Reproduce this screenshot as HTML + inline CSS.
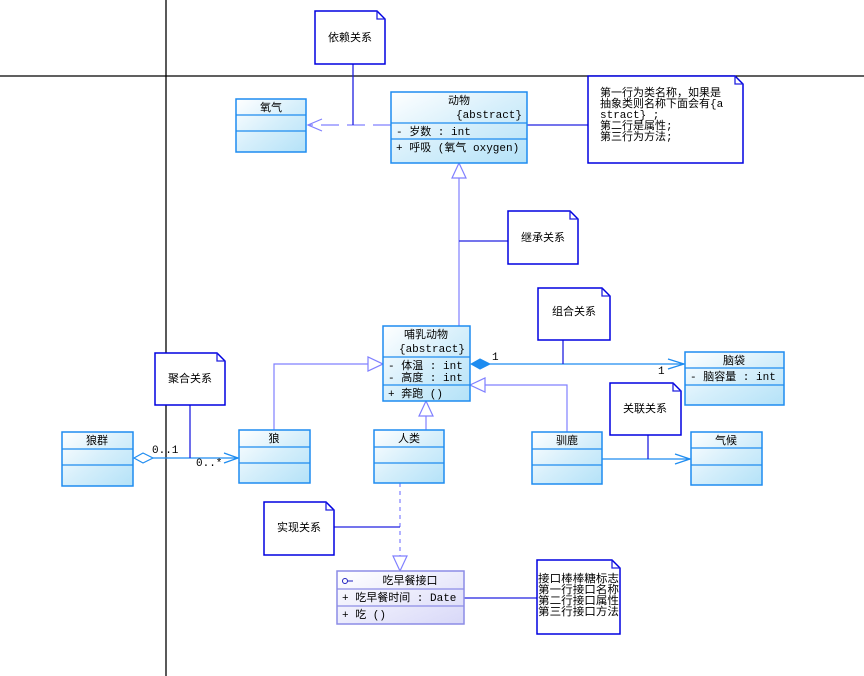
<!DOCTYPE html>
<html><head><meta charset="utf-8"><style>
html,body{margin:0;padding:0;background:#fff;}
svg{display:block}
text{font-family:"Liberation Mono","Noto Sans CJK SC",monospace;font-size:11px;fill:#000}
.c{fill:url(#g);stroke:#1e8cf0;stroke-width:1.5}
.ci{fill:url(#gp);stroke:#8c8ce6;stroke-width:1.5}
.n{fill:#fff;stroke:#0000e0;stroke-width:1.5}
.nl{stroke:#2020e0;stroke-width:1.3;fill:none}
.k{stroke:#8080ff;stroke-width:1.2;fill:none}
.b{stroke:#1e8cf0;stroke-width:1.3;fill:none}
</style></head><body>
<svg width="864" height="676" viewBox="0 0 864 676" xmlns="http://www.w3.org/2000/svg">
<defs>
<linearGradient id="g" x1="0" y1="0" x2="1" y2="1"><stop offset="0" stop-color="#ffffff"/><stop offset="0.5" stop-color="#d6effb"/><stop offset="1" stop-color="#b4e2f8"/></linearGradient>
<linearGradient id="gp" x1="0" y1="0" x2="1" y2="1"><stop offset="0" stop-color="#ffffff"/><stop offset="1" stop-color="#d8d8f8"/></linearGradient>
</defs>
<line x1="166" y1="0" x2="166" y2="676" stroke="#000" stroke-width="1.3"/>
<line x1="0" y1="76" x2="864" y2="76" stroke="#000" stroke-width="1.3"/>

<!-- connectors -->
<line x1="391" y1="125" x2="308" y2="125" class="k" stroke-dasharray="18,8"/>
<polyline points="322,119 308,125 322,131" class="k"/>
<line x1="353" y1="64" x2="353" y2="125" class="nl"/>
<line x1="527" y1="125" x2="588" y2="125" class="nl"/>
<line x1="459" y1="178" x2="459" y2="326" class="k"/>
<polygon points="459,163 452,178 466,178" fill="#fff" stroke="#8080ff" stroke-width="1.2"/>
<line x1="459" y1="241" x2="508" y2="241" class="nl"/>
<line x1="490" y1="364" x2="684" y2="364" class="b"/>
<polygon points="471,364 480,359 490,364 480,369" fill="#1e8cf0" stroke="#1e8cf0"/>
<polyline points="668,359 684,364 668,369" class="b"/>
<text x="492" y="360">1</text><text x="658" y="374">1</text>
<line x1="563" y1="340" x2="563" y2="364" class="nl"/>
<polyline points="274,430 274,364 368,364" class="k"/>
<polygon points="383,364 368,357 368,371" fill="#fff" stroke="#8080ff" stroke-width="1.2"/>
<line x1="426" y1="430" x2="426" y2="416" class="k"/>
<polygon points="426,401 419,416 433,416" fill="#fff" stroke="#8080ff" stroke-width="1.2"/>
<polyline points="567,432 567,385 485,385" class="k"/>
<polygon points="470,385 485,378 485,392" fill="#fff" stroke="#8080ff" stroke-width="1.2"/>
<line x1="602" y1="459" x2="690" y2="459" class="b"/>
<polyline points="675,454 690,459 675,464" class="b"/>
<line x1="648" y1="435" x2="648" y2="459" class="nl"/>
<line x1="153" y1="458" x2="238" y2="458" class="b"/>
<polygon points="134,458 143,453 153,458 143,463" fill="#fff" stroke="#1e8cf0" stroke-width="1.2"/>
<polyline points="224,453 238,458 224,463" class="b"/>
<text x="152" y="453">0..1</text><text x="196" y="466">0..*</text>
<line x1="190" y1="405" x2="190" y2="458" class="nl"/>
<line x1="400" y1="483" x2="400" y2="556" class="k" stroke-dasharray="4,4"/>
<polygon points="400,571 393,556 407,556" fill="#fff" stroke="#8080ff" stroke-width="1.2"/>
<line x1="334" y1="527" x2="400" y2="527" class="nl"/>
<line x1="464" y1="598" x2="537" y2="598" class="nl"/>

<!-- classes -->
<g><rect x="236" y="99" width="70" height="53" class="c"/><line x1="236" y1="115" x2="306" y2="115" class="b"/><line x1="236" y1="131" x2="306" y2="131" class="b"/><text x="271" y="111" text-anchor="middle">氧气</text></g>
<g><rect x="391" y="92" width="136" height="71" class="c"/><line x1="391" y1="123" x2="527" y2="123" class="b"/><line x1="391" y1="139" x2="527" y2="139" class="b"/>
<text x="459" y="104" text-anchor="middle">动物</text><text x="522" y="118" text-anchor="end">{abstract}</text>
<text x="396" y="135">-  岁数 : int</text><text x="396" y="151">+  呼吸 (氧气 oxygen)</text></g>
<g><rect x="383" y="326" width="87" height="75" class="c"/><line x1="383" y1="357" x2="470" y2="357" class="b"/><line x1="383" y1="385" x2="470" y2="385" class="b"/>
<text x="426" y="338" text-anchor="middle">哺乳动物</text><text x="465" y="352" text-anchor="end">{abstract}</text>
<text x="388" y="369">-  体温 : int</text><text x="388" y="381">-  高度 : int</text><text x="388" y="397">+  奔跑 ()</text></g>
<g><rect x="685" y="352" width="99" height="53" class="c"/><line x1="685" y1="368" x2="784" y2="368" class="b"/><line x1="685" y1="385" x2="784" y2="385" class="b"/><text x="734" y="364" text-anchor="middle">脑袋</text><text x="690" y="380">-  脑容量 : int</text></g>
<g><rect x="62" y="432" width="71" height="54" class="c"/><line x1="62" y1="449" x2="133" y2="449" class="b"/><line x1="62" y1="465" x2="133" y2="465" class="b"/><text x="97" y="444" text-anchor="middle">狼群</text></g>
<g><rect x="239" y="430" width="71" height="53" class="c"/><line x1="239" y1="447" x2="310" y2="447" class="b"/><line x1="239" y1="463" x2="310" y2="463" class="b"/><text x="274" y="442" text-anchor="middle">狼</text></g>
<g><rect x="374" y="430" width="70" height="53" class="c"/><line x1="374" y1="447" x2="444" y2="447" class="b"/><line x1="374" y1="463" x2="444" y2="463" class="b"/><text x="409" y="442" text-anchor="middle">人类</text></g>
<g><rect x="532" y="432" width="70" height="52" class="c"/><line x1="532" y1="449" x2="602" y2="449" class="b"/><line x1="532" y1="465" x2="602" y2="465" class="b"/><text x="567" y="444" text-anchor="middle">驯鹿</text></g>
<g><rect x="691" y="432" width="71" height="53" class="c"/><line x1="691" y1="448" x2="762" y2="448" class="b"/><line x1="691" y1="465" x2="762" y2="465" class="b"/><text x="726" y="444" text-anchor="middle">气候</text></g>
<g><rect x="337" y="571" width="127" height="53" class="ci"/><line x1="337" y1="589" x2="464" y2="589" stroke="#8c8ce6" stroke-width="1.3"/><line x1="337" y1="606" x2="464" y2="606" stroke="#8c8ce6" stroke-width="1.3"/>
<circle cx="345" cy="581" r="2.5" fill="none" stroke="#2020c0"/><line x1="347" y1="581" x2="353" y2="581" stroke="#2020c0"/>
<text x="410" y="584" text-anchor="middle">吃早餐接口</text><text x="342" y="601">+  吃早餐时间 : Date</text><text x="342" y="618">+  吃 ()</text></g>

<!-- notes -->
<g><path d="M315,11 H377 L385,19 V64 H315 Z" class="n"/><path d="M377,11 L377,19 L385,19" class="nl" stroke-width="0.8"/><text x="350" y="41" text-anchor="middle">依赖关系</text></g>
<g><path d="M588,76 H735 L743,84 V163 H588 Z" class="n"/><path d="M735,76 V84 H743" class="nl" stroke-width="0.8"/>
<text x="600" y="96">第一行为类名称，如果是</text><text x="600" y="107">抽象类则名称下面会有{a</text><text x="600" y="118">stract} ;</text><text x="600" y="129">第二行是属性;</text><text x="600" y="140">第三行为方法;</text></g>
<g><path d="M508,211 H570 L578,219 V264 H508 Z" class="n"/><path d="M570,211 V219 H578" class="nl" stroke-width="0.8"/><text x="543" y="241" text-anchor="middle">继承关系</text></g>
<g><path d="M538,288 H602 L610,296 V340 H538 Z" class="n"/><path d="M602,288 V296 H610" class="nl" stroke-width="0.8"/><text x="574" y="315" text-anchor="middle">组合关系</text></g>
<g><path d="M155,353 H217 L225,361 V405 H155 Z" class="n"/><path d="M217,353 V361 H225" class="nl" stroke-width="0.8"/><text x="190" y="382" text-anchor="middle">聚合关系</text></g>
<g><path d="M610,383 H673 L681,391 V435 H610 Z" class="n"/><path d="M673,383 V391 H681" class="nl" stroke-width="0.8"/><text x="645" y="412" text-anchor="middle">关联关系</text></g>
<g><path d="M264,502 H326 L334,510 V555 H264 Z" class="n"/><path d="M326,502 V510 H334" class="nl" stroke-width="0.8"/><text x="299" y="531" text-anchor="middle">实现关系</text></g>
<g><path d="M537,560 H612 L620,568 V634 H537 Z" class="n"/><path d="M612,560 V568 H620" class="nl" stroke-width="0.8"/>
<text x="538" y="582" textLength="81" lengthAdjust="spacingAndGlyphs">接口棒棒糖标志</text><text x="538" y="593" textLength="81" lengthAdjust="spacingAndGlyphs">第一行接口名称</text><text x="538" y="604" textLength="81" lengthAdjust="spacingAndGlyphs">第二行接口属性</text><text x="538" y="615" textLength="81" lengthAdjust="spacingAndGlyphs">第三行接口方法</text></g>
</svg>
</body></html>
